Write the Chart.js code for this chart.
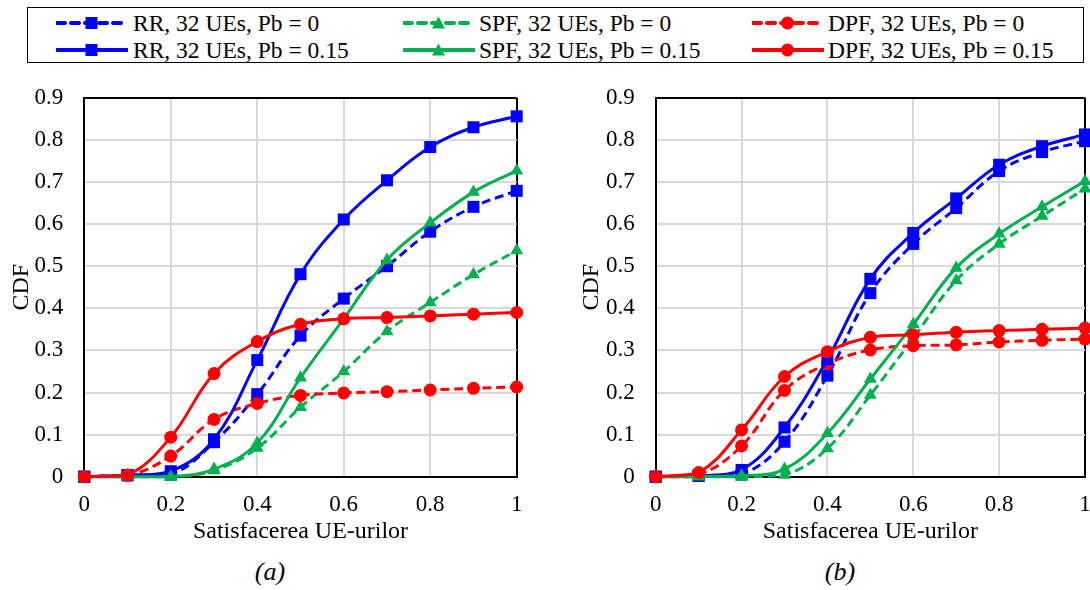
<!DOCTYPE html>
<html>
<head>
<meta charset="utf-8">
<script src="https://cdn.jsdelivr.net/npm/chart.js@4/dist/chart.umd.min.js"></script>
<style>
  html, body { margin:0; padding:0; background:#fff; }
  body { width:1090px; height:590px; position:relative; overflow:hidden; font-family:"Liberation Serif","Times New Roman",serif; }
  #legend { position:absolute; left:27px; top:7px; width:1055px; height:54px; border:1.5px solid #000; }
  .item { position:absolute; height:28px; display:flex; align-items:center; font-size:23.5px; color:#000; white-space:nowrap; }
  .item svg { position:absolute; left:0; top:6px; }
  .item span { position:absolute; top:0; line-height:28px; }
  canvas { position:absolute; top:63.3px; }
  #chartA { left:0; }
  #chartB { left:570px; }
  .sub { position:absolute; top:556px; font-size:26px; font-style:italic; width:60px; text-align:center; line-height:32px; }
</style>
</head>
<body>
<div id="legend"></div>
<canvas id="chartA" width="540" height="487"></canvas>
<canvas id="chartB" width="535" height="487"></canvas>
<div class="sub" style="left:240px">(a)</div>
<div class="sub" style="left:810px">(b)</div>
<script>
// Data
const satisfaction = [0, 0.1, 0.2, 0.3, 0.4, 0.5, 0.6, 0.7, 0.8, 0.9, 1];
const seriesNames = ['RR, 32 UEs, Pb = 0', 'SPF, 32 UEs, Pb = 0', 'DPF, 32 UEs, Pb = 0',
                     'RR, 32 UEs, Pb = 0.15', 'SPF, 32 UEs, Pb = 0.15', 'DPF, 32 UEs, Pb = 0.15'];

// (a)
const rrA0   = [0, 0.003, 0.005, 0.082, 0.196, 0.335, 0.423, 0.500, 0.582, 0.641, 0.679];
const spfA0  = [0, 0, 0, 0.015, 0.068, 0.165, 0.250, 0.345, 0.414, 0.480, 0.537];
const dpfA0  = [0, 0.003, 0.049, 0.136, 0.174, 0.193, 0.199, 0.202, 0.206, 0.210, 0.213];
const rrA15  = [0, 0.004, 0.013, 0.089, 0.277, 0.481, 0.611, 0.704, 0.783, 0.830, 0.856];
const spfA15 = [0, 0, 0, 0.018, 0.080, 0.235, 0.375, 0.515, 0.603, 0.676, 0.727];
const dpfA15 = [0, 0.004, 0.094, 0.245, 0.321, 0.362, 0.375, 0.378, 0.382, 0.386, 0.390];

// (b)
const rrB0   = [0, 0.002, 0.005, 0.083, 0.240, 0.436, 0.553, 0.638, 0.726, 0.771, 0.797];
const spfB0  = [0, 0, 0, 0.004, 0.067, 0.194, 0.329, 0.466, 0.553, 0.619, 0.684];
const dpfB0  = [0, 0.005, 0.073, 0.205, 0.268, 0.301, 0.311, 0.313, 0.320, 0.324, 0.327];
const rrB15  = [0, 0.002, 0.016, 0.117, 0.279, 0.470, 0.579, 0.661, 0.741, 0.785, 0.813];
const spfB15 = [0, 0, 0.002, 0.018, 0.103, 0.232, 0.362, 0.496, 0.577, 0.641, 0.702];
const dpfB15 = [0, 0.010, 0.111, 0.238, 0.297, 0.331, 0.337, 0.343, 0.347, 0.350, 0.353];

const xTicks = [0, 0.2, 0.4, 0.6, 0.8, 1];
const yTicks = [0, 0.1, 0.2, 0.3, 0.4, 0.5, 0.6, 0.7, 0.8, 0.9];

// Styles
const BLUE = '#0000FF', GREEN = '#00B050', RED = '#FF0000';
const styles = [
  {color: BLUE,  point: 'rect',     r: 8.5, dash: [9, 5]},
  {color: GREEN, point: 'triangle', r: 7.5, dash: [9, 5]},
  {color: RED,   point: 'circle',   r: 6.5, dash: [9, 5]},
  {color: BLUE,  point: 'rect',     r: 8.5, dash: []},
  {color: GREEN, point: 'triangle', r: 7.5, dash: []},
  {color: RED,   point: 'circle',   r: 6.5, dash: []}
];
const FONT = '"Liberation Serif", "Times New Roman", serif';

// Legend (HTML)
const legend = document.getElementById('legend');
const colX = [[28, 105], [375, 451], [724, 800]];
const rowY = [1, 28];
function markerSvg(st) {
  const c = st.color;
  if (st.point === 'rect') return `<rect x="29.5" y="2" width="12" height="12" fill="${c}"/>`;
  if (st.point === 'triangle') return `<polygon points="35.5,1.5 42,13.5 29,13.5" fill="${c}"/>`;
  return `<circle cx="35.5" cy="8" r="6.5" fill="${c}"/>`;
}
seriesNames.forEach((name, i) => {
  const st = styles[i];
  const col = i % 3, row = Math.floor(i / 3);
  const div = document.createElement('div');
  div.className = 'item';
  div.style.left = colX[col][0] + 'px';
  div.style.top = rowY[row] + 'px';
  const dash = st.dash.length ? 'stroke-dasharray="8 6"' : '';
  div.innerHTML = `<svg width="72" height="16"><line x1="1" y1="8" x2="71" y2="8" stroke="${st.color}" stroke-width="4" stroke-linecap="round" ${dash}/>${markerSvg(st)}</svg>
    <span style="left:${colX[col][1] - colX[col][0]}px">${name}</span>`;
  legend.appendChild(div);
});

function makeDatasets(arrays) {
  return arrays.map((vals, i) => ({
    label: seriesNames[i],
    data: satisfaction.map((x, k) => ({x: x, y: vals[k]})),
    borderColor: styles[i].color,
    backgroundColor: styles[i].color,
    borderWidth: 3,
    borderDash: styles[i].dash,
    pointStyle: styles[i].point,
    pointRadius: styles[i].r,
    pointBorderWidth: 0,
    pointBackgroundColor: styles[i].color,
    tension: 0.4,
    clip: false,
    order: 6 - i
  }));
}

function makeChart(id, arrays, yWidth, padRight) {
  const edgeX = v => v === 0 || v === 1;
  const edgeY = v => Math.abs(v) < 1e-9 || Math.abs(v - 0.9) < 1e-9;
  return new Chart(document.getElementById(id), {
    type: 'line',
    data: { datasets: makeDatasets(arrays) },
    options: {
      responsive: false,
      animation: false,
      layout: { padding: { top: 18.3, right: padRight, left: 0, bottom: 0 } },
      plugins: { legend: { display: false }, tooltip: { enabled: false } },
      scales: {
        x: {
          type: 'linear', min: 0, max: 1,
          afterBuildTicks: s => { s.ticks = xTicks.map(v => ({value: v})); },
          afterFit: s => { s.height = 73.3; },
          ticks: { padding: 14, color: '#000', font: { family: FONT, size: 23 },
                   callback: v => String(Number(v.toFixed(1))) },
          grid: { drawTicks: false, lineWidth: 2,
                  color: c => edgeX(c.tick && c.tick.value) ? '#000' : '#D9D9D9' },
          border: { display: true, color: '#000', width: 2 },
          title: { display: true, text: 'Satisfacerea UE-urilor', color: '#000',
                   font: { family: FONT, size: 24 }, padding: { top: 4, bottom: 4 } }
        },
        y: {
          type: 'linear', min: 0, max: 0.9,
          afterBuildTicks: s => { s.ticks = yTicks.map(v => ({value: v})); },
          afterFit: s => { s.width = yWidth; },
          ticks: { padding: 21, color: '#000', font: { family: FONT, size: 23 },
                   callback: v => String(Number(v.toFixed(1))) },
          grid: { drawTicks: false, lineWidth: 2,
                  color: c => edgeY(c.tick && c.tick.value) ? '#000' : '#D9D9D9' },
          border: { display: true, color: '#000', width: 2 },
          title: { display: true, text: 'CDF', color: '#000',
                   font: { family: FONT, size: 24 }, padding: { top: 7.6, bottom: 7.6 } }
        }
      }
    }
  });
}

makeChart('chartA', [rrA0, spfA0, dpfA0, rrA15, spfA15, dpfA15], 84.3, 23.3);
makeChart('chartB', [rrB0, spfB0, dpfB0, rrB15, spfB15, dpfB15], 85.7, 20);
</script>
</body>
</html>
